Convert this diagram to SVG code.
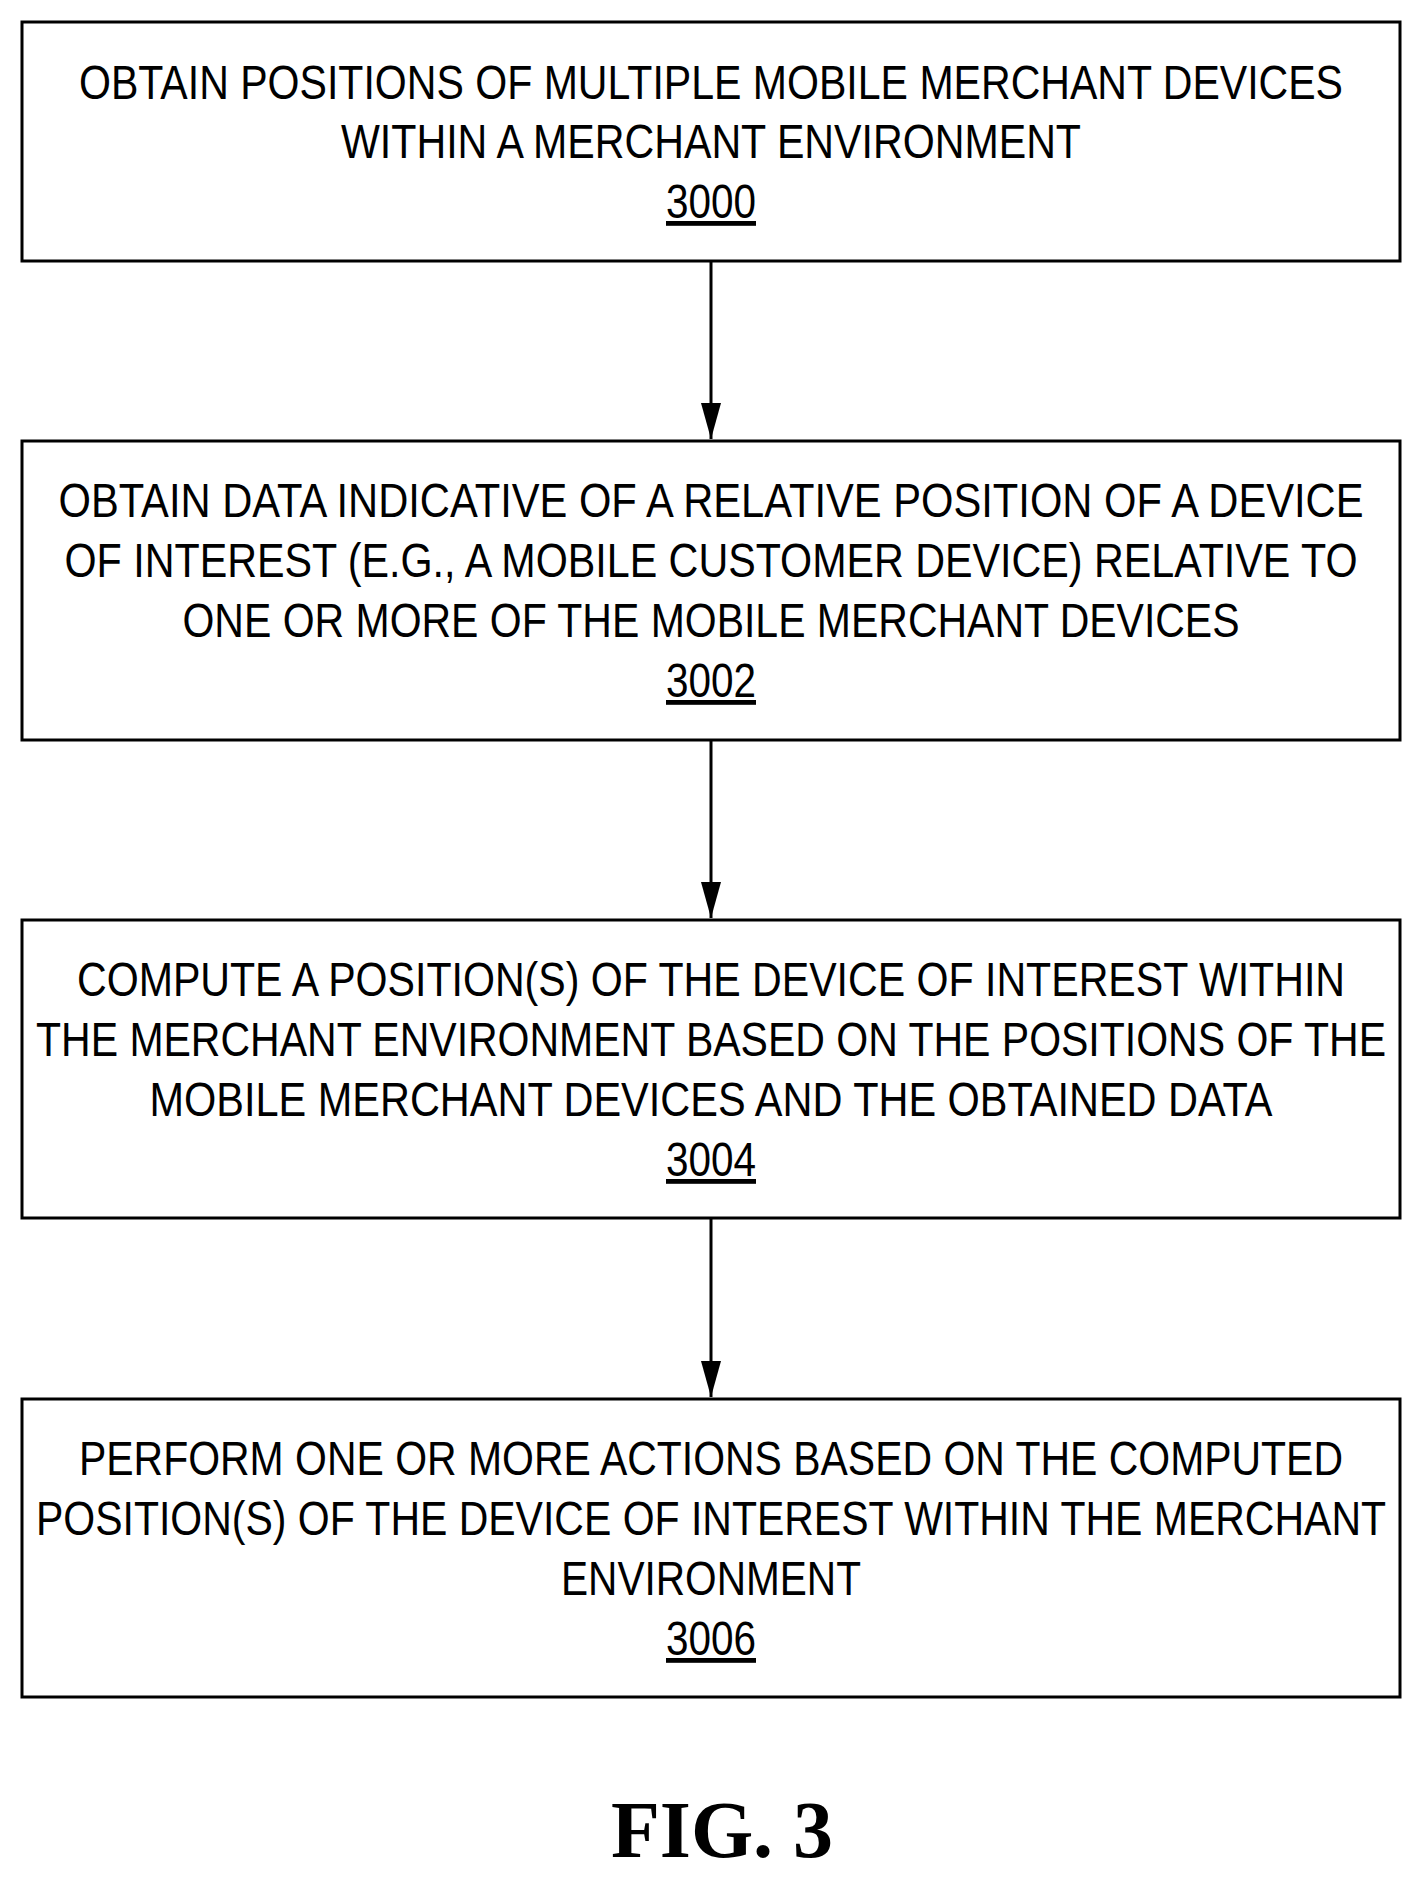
<svg xmlns="http://www.w3.org/2000/svg" width="1424" height="1880" viewBox="0 0 1424 1880">
<style>
.b{fill:#fff;stroke:#000;stroke-width:3}
.t{font-family:"Liberation Sans Narrow","Liberation Sans",sans-serif;font-size:48px;text-anchor:middle;fill:#000}
.n{text-decoration:underline}
.c{stroke:#000;stroke-width:3;fill:none}
</style>
<defs><marker id="a" markerWidth="38" markerHeight="22" refX="36" refY="11" orient="auto" markerUnits="userSpaceOnUse" viewBox="0 0 38 22"><path d="M0,1 L36,11 L0,21 Z" fill="#000"/></marker></defs>
<rect width="1424" height="1880" fill="#fff"/>
<g id="n3000"><rect class="b" x="22" y="22" width="1378" height="239"/>
<text class="t" x="711" y="99" textLength="1264" lengthAdjust="spacingAndGlyphs">OBTAIN POSITIONS OF MULTIPLE MOBILE MERCHANT DEVICES</text>
<text class="t" x="711" y="158" textLength="740" lengthAdjust="spacingAndGlyphs">WITHIN A MERCHANT ENVIRONMENT</text>
<text class="t n" x="711" y="218" textLength="90" lengthAdjust="spacingAndGlyphs">3000</text></g>
<g id="n3002"><rect class="b" x="22" y="441" width="1378" height="299"/>
<text class="t" x="711" y="517" textLength="1305" lengthAdjust="spacingAndGlyphs">OBTAIN DATA INDICATIVE OF A RELATIVE POSITION OF A DEVICE</text>
<text class="t" x="711" y="577" textLength="1293" lengthAdjust="spacingAndGlyphs">OF INTEREST (E.G., A MOBILE CUSTOMER DEVICE) RELATIVE TO</text>
<text class="t" x="711" y="637" textLength="1057" lengthAdjust="spacingAndGlyphs">ONE OR MORE OF THE MOBILE MERCHANT DEVICES</text>
<text class="t n" x="711" y="697" textLength="90" lengthAdjust="spacingAndGlyphs">3002</text></g>
<g id="n3004"><rect class="b" x="22" y="920" width="1378" height="298"/>
<text class="t" x="711" y="996" textLength="1268" lengthAdjust="spacingAndGlyphs">COMPUTE A POSITION(S) OF THE DEVICE OF INTEREST WITHIN</text>
<text class="t" x="711" y="1056" textLength="1350" lengthAdjust="spacingAndGlyphs">THE MERCHANT ENVIRONMENT BASED ON THE POSITIONS OF THE</text>
<text class="t" x="711" y="1116" textLength="1123" lengthAdjust="spacingAndGlyphs">MOBILE MERCHANT DEVICES AND THE OBTAINED DATA</text>
<text class="t n" x="711" y="1176" textLength="90" lengthAdjust="spacingAndGlyphs">3004</text></g>
<g id="n3006"><rect class="b" x="22" y="1399" width="1378" height="298"/>
<text class="t" x="711" y="1475" textLength="1264" lengthAdjust="spacingAndGlyphs">PERFORM ONE OR MORE ACTIONS BASED ON THE COMPUTED</text>
<text class="t" x="711" y="1535" textLength="1350" lengthAdjust="spacingAndGlyphs">POSITION(S) OF THE DEVICE OF INTEREST WITHIN THE MERCHANT</text>
<text class="t" x="711" y="1595" textLength="300" lengthAdjust="spacingAndGlyphs">ENVIRONMENT</text>
<text class="t n" x="711" y="1655" textLength="90" lengthAdjust="spacingAndGlyphs">3006</text></g>
<g id="connectors">
<line class="c" x1="711" y1="261" x2="711" y2="439" marker-end="url(#a)"/>
<line class="c" x1="711" y1="740" x2="711" y2="918" marker-end="url(#a)"/>
<line class="c" x1="711" y1="1218" x2="711" y2="1397" marker-end="url(#a)"/>
</g>
<text x="722" y="1857" font-family="Liberation Serif,serif" font-weight="bold" font-size="80" text-anchor="middle">FIG. 3</text>
</svg>
